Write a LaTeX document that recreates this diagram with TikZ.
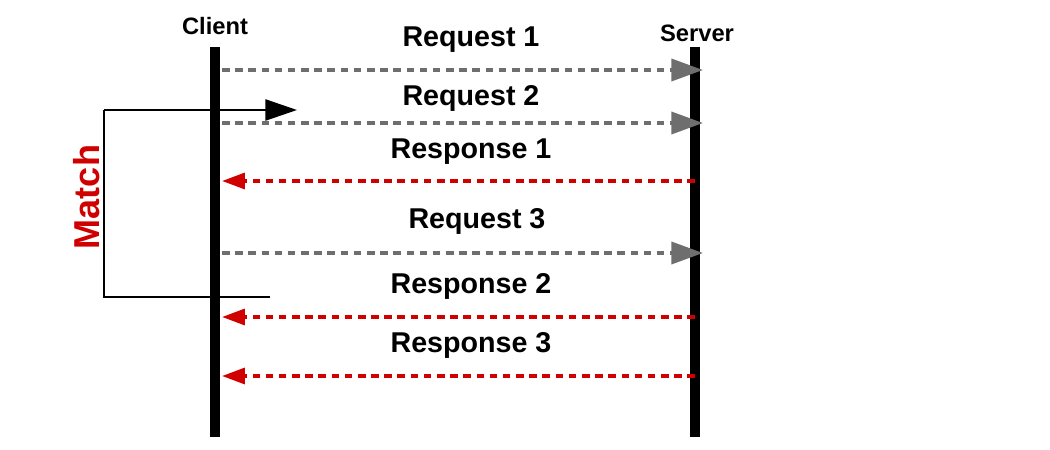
\documentclass[tikz,border=0pt]{standalone}
\usepackage{xcolor}
\usepackage{fontspec}
\setmainfont{Liberation Sans}
\usepackage{tikz}
\usetikzlibrary{positioning}
\usetikzlibrary{arrows.meta}

\definecolor{reqgray}{HTML}{6E6E6E}
\definecolor{resred}{HTML}{D00000}

\begin{document}
\begin{tikzpicture}
  [
    actor/.style={
       font=\bfseries\fontsize{13.5}{16}\selectfont,
       inner sep=0pt
    },
    msg/.style={
       font=\bfseries\fontsize{16.3}{19}\selectfont,
       inner sep=0pt
    },
    life/.style={
       draw=black,
       line width=5.8pt
    },
    req/.style={
       draw=reqgray,
       line width=2.1pt,
       dash pattern=on 4.3pt off 3.2pt,
       -{Triangle[length=18pt,width=12.5pt,fill=reqgray]}
    },
    res/.style={
       draw=resred,
       line width=2.1pt,
       dash pattern=on 4.3pt off 3.2pt,
       -{Triangle[length=13pt,width=9pt,fill=resred]}
    }
  ]
  \useasboundingbox (0,0) rectangle (21,9);

  % lifelines
  \node (client) at ( 4.30,8.48) [actor] {Client};
  \node (server) at (13.94,8.34) [actor] {Server};
  \coordinate (clientTop) at ( 4.30,8.06);
  \coordinate (clientBot) at ( 4.30,0.26);
  \coordinate (serverTop) at (13.90,8.06);
  \coordinate (serverBot) at (13.90,0.26);
  \draw [life] (clientTop) -- (clientBot);
  \draw [life] (serverTop) -- (serverBot);

  % match bracket
  \coordinate (matchTop)  at (2.08,6.80);
  \coordinate (matchBot)  at (2.08,3.06);
  \coordinate (matchTip)  at (5.94,6.80);
  \coordinate (matchEnd)  at (5.40,3.06);
  \draw [line width=1.2pt, -{Triangle[length=18pt,width=12pt]}]
        (matchTop) -- (matchTip);
  \draw [line width=1.2pt] (matchTop) -- (matchBot) -- (matchEnd);
  \node (match) at (1.74,5.06) [rotate=90, text=resred, inner sep=0pt,
        font=\bfseries\fontsize{20.5}{24}\selectfont] {Match};

  % message ends on both lifelines
  \coordinate (c1) at ( 4.44,7.60);  \coordinate (s1) at (14.06,7.60);
  \coordinate (c2) at ( 4.44,6.54);  \coordinate (s2) at (14.06,6.54);
  \coordinate (c3) at ( 4.44,5.38);  \coordinate (s3) at (13.90,5.38);
  \coordinate (c4) at ( 4.44,3.94);  \coordinate (s4) at (14.06,3.94);
  \coordinate (c5) at ( 4.44,2.66);  \coordinate (s5) at (13.90,2.66);
  \coordinate (c6) at ( 4.44,1.48);  \coordinate (s6) at (13.90,1.48);

  \node (req1)  at (9.42,8.21) [msg] {Request 1};
  \node (req2)  at (9.42,7.03) [msg] {Request 2};
  \node (res1)  at (9.42,5.97) [msg] {Response 1};
  \node (req3)  at (9.54,4.57) [msg] {Request 3};
  \node (res2)  at (9.42,3.27) [msg] {Response 2};
  \node (res3)  at (9.42,2.09) [msg] {Response 3};

  \draw [req] (c1) -- (s1);
  \draw [req] (c2) -- (s2);
  \draw [res] (s3) -- (c3);
  \draw [req] (c4) -- (s4);
  \draw [res] (s5) -- (c5);
  \draw [res] (s6) -- (c6);
\end{tikzpicture}
\end{document}
